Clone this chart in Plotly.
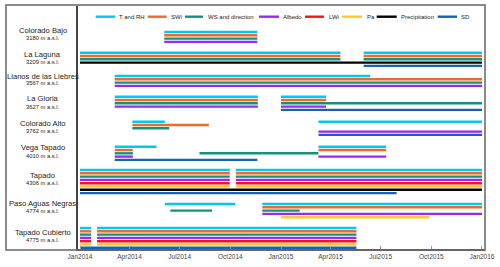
import plotly.graph_objects as go

# ---------------- data ----------------
stations = ["Colorado Bajo", "La Laguna", "Llanos de las Liebres", "La Gloria",
            "Colorado Alto", "Vega Tapado", "Tapado", "Paso Aguas Negras",
            "Tapado Cubierto"]
elevations = ["3180 m a.s.l.", "3209 m a.s.l.", "3567 m a.s.l.", "3627 m a.s.l.",
              "3762 m a.s.l.", "4010 m a.s.l.", "4306 m a.s.l.", "4774 m a.s.l.",
              "4775 m a.s.l."]
variables = ["T and RH", "SWi", "WS and direction", "Albedo", "LWi", "Pa",
             "Precipitation", "SD"]

# variables measured at each station (order = line order within the station band)
station_vars = {
    "Colorado Bajo": ["T and RH", "SWi", "WS and direction", "Albedo"],
    "La Laguna": ["T and RH", "SWi", "WS and direction", "Precipitation", "SD"],
    "Llanos de las Liebres": ["T and RH", "SWi", "WS and direction", "Albedo"],
    "La Gloria": ["T and RH", "SWi", "WS and direction", "Albedo", "SD"],
    "Colorado Alto": ["T and RH", "SWi", "WS and direction", "Albedo", "SD"],
    "Vega Tapado": ["T and RH", "SWi", "WS and direction", "Albedo", "SD"],
    "Tapado": ["T and RH", "SWi", "WS and direction", "Albedo", "LWi", "Pa",
               "Precipitation", "SD"],
    "Paso Aguas Negras": ["T and RH", "SWi", "WS and direction", "Albedo", "Pa"],
    "Tapado Cubierto": ["T and RH", "SWi", "WS and direction", "Albedo", "LWi",
                        "Pa", "SD"],
}

# measurement periods: (variable, start, end) per station
colorado_bajo = [(v, "2014-06-03", "2014-11-19") for v in
                 ["T and RH", "SWi", "WS and direction", "Albedo"]]
la_laguna = [
    ("T and RH", "2014-01-01", "2015-04-19"), ("T and RH", "2015-05-31", "2016-01-01"),
    ("SWi", "2014-01-01", "2015-04-19"), ("SWi", "2015-05-31", "2016-01-01"),
    ("WS and direction", "2014-01-01", "2015-04-19"), ("WS and direction", "2015-05-31", "2016-01-01"),
    ("Precipitation", "2014-01-01", "2016-01-01"),
    ("SD", "2015-05-31", "2016-01-01"),
]
llanos = [
    ("T and RH", "2014-03-05", "2015-06-12"),
    ("SWi", "2014-03-05", "2016-01-01"),
    ("WS and direction", "2014-03-05", "2016-01-01"),
    ("Albedo", "2014-03-05", "2016-01-01"),
]
la_gloria = [
    ("T and RH", "2014-03-05", "2014-11-20"), ("T and RH", "2015-01-01", "2015-03-24"),
    ("SWi", "2014-03-05", "2014-11-20"), ("SWi", "2015-01-01", "2015-03-24"),
    ("WS and direction", "2014-03-05", "2014-11-20"), ("WS and direction", "2015-01-01", "2016-01-01"),
    ("Albedo", "2014-03-05", "2014-11-20"), ("Albedo", "2015-01-01", "2015-03-24"),
    ("SD", "2015-01-01", "2016-01-01"),
]
colorado_alto = [
    ("T and RH", "2014-04-06", "2014-06-04"), ("T and RH", "2015-03-10", "2016-01-01"),
    ("SWi", "2014-04-06", "2014-08-23"),
    ("WS and direction", "2014-04-06", "2014-06-12"),
    ("Albedo", "2015-03-10", "2016-01-01"),
    ("SD", "2015-03-10", "2016-01-01"),
]
vega_tapado = [
    ("T and RH", "2014-03-05", "2014-05-20"), ("T and RH", "2015-03-10", "2015-07-11"),
    ("SWi", "2014-03-05", "2014-04-07"), ("SWi", "2015-03-10", "2015-07-11"),
    ("WS and direction", "2014-03-05", "2014-04-07"), ("WS and direction", "2014-08-06", "2015-03-10"),
    ("Albedo", "2014-03-05", "2014-04-07"), ("Albedo", "2015-03-10", "2015-07-11"),
    ("SD", "2014-03-05", "2014-11-19"),
]
tapado = [(v, s, e) for v in ["T and RH", "SWi", "WS and direction", "Albedo", "LWi", "Pa"]
          for s, e in [("2014-01-01", "2014-09-30"), ("2014-10-11", "2016-01-01")]] + [
    ("Precipitation", "2014-01-01", "2016-01-01"),
    ("SD", "2014-01-01", "2015-07-30"),
]
paso_aguas_negras = [
    ("T and RH", "2014-06-04", "2014-10-10"), ("T and RH", "2014-11-28", "2016-01-01"),
    ("SWi", "2014-11-28", "2016-01-01"),
    ("WS and direction", "2014-06-14", "2014-08-29"), ("WS and direction", "2014-11-28", "2015-02-04"),
    ("Albedo", "2014-11-28", "2016-01-01"),
    ("Pa", "2015-01-01", "2015-09-27"),
]
tapado_cubierto = [(v, s, e) for v in ["T and RH", "SWi", "WS and direction", "Albedo", "LWi", "Pa"]
                   for s, e in [("2014-01-01", "2014-01-21"), ("2014-02-01", "2015-05-18")]] + [
    ("SD", "2014-01-01", "2015-05-18"),
]
periods = dict(zip(stations, [colorado_bajo, la_laguna, llanos, la_gloria, colorado_alto,
                              vega_tapado, tapado, paso_aguas_negras, tapado_cubierto]))

# ---------------- styles / layout positions ----------------
colors = {
    "T and RH": "#00C8F5", "SWi": "#F0692A", "WS and direction": "#16907A",
    "Albedo": "#9A28F0", "LWi": "#FF1010", "Pa": "#FFC82E",
    "Precipitation": "#000000", "SD": "#1463B4",
}
W, H = 500, 267
PL, PR, PT, PB = 78, 485, 6, 249          # plot area in pixels
row_top = [32, 52.7, 76, 96.7, 121.7, 146.7, 170, 204, 228]
slot_step = 3.3
name_y = [31, 55, 76.5, 98.5, 123.3, 147.3, 175.7, 203.3, 232.7]
elev_y = [38.3, 62.3, 83.3, 106.7, 130.7, 155.7, 183.3, 211, 240]


def px(xp):
    return (xp - PL) / (PR - PL)


def py(yp):
    return (PB - yp) / (PB - PT)


fig = go.Figure()
for var in variables:
    xs, ys = [], []
    for i, st in enumerate(stations):
        for v, s, e in periods[st]:
            if v != var:
                continue
            yv = row_top[i] + station_vars[st].index(v) * slot_step
            xs += [s, e, None]
            ys += [yv, yv, None]
    fig.add_trace(go.Scatter(x=xs, y=ys, mode="lines", name=var,
                             line=dict(color=colors[var], width=2.4),
                             showlegend=False, hoverinfo="skip"))

shapes, annotations = [], []
# station labels
for i, st in enumerate(stations):
    annotations.append(dict(x=px(42.5), y=py(name_y[i]), xref="paper", yref="paper",
                            text=st, showarrow=False, xanchor="center", yanchor="middle",
                            font=dict(size=7.6, color="#222")))
    annotations.append(dict(x=px(42.5), y=py(elev_y[i]), xref="paper", yref="paper",
                            text=elevations[i], showarrow=False, xanchor="center",
                            yanchor="middle", font=dict(size=5.8, color="#222")))

# manual legend
legend_pos = [(95.7, 115, 117), (147.7, 166.7, 169), (185, 203, 206), (259, 279, 281),
              (305, 324, 327), (342, 362, 364.5), (376.7, 396.7, 399), (437.7, 457, 459)]
for var, (x0, x1, xt) in zip(variables, legend_pos):
    shapes.append(dict(type="line", xref="paper", yref="paper", x0=px(x0), x1=px(x1),
                       y0=py(16.7), y1=py(16.7),
                       line=dict(color=colors[var], width=2.4)))
    annotations.append(dict(x=px(xt), y=py(16.9), xref="paper", yref="paper", text=var,
                            showarrow=False, xanchor="left", yanchor="middle",
                            font=dict(size=6, color="#222")))

# outer frame
shapes.append(dict(type="rect", xref="paper", yref="paper", x0=px(6), x1=px(485),
                   y0=py(250), y1=py(5), line=dict(color="#666", width=1.5),
                   fillcolor="rgba(0,0,0,0)", layer="above"))

fig.update_layout(
    width=W, height=H,
    margin=dict(l=PL, r=W - PR, t=PT, b=H - PB, pad=0),
    paper_bgcolor="white", plot_bgcolor="white",
    font=dict(family="Liberation Sans, Arial, sans-serif", color="#222"),
    shapes=shapes, annotations=annotations, showlegend=False,
    xaxis=dict(type="date", range=["2013-12-28 09:00", "2016-01-06 11:00"],
               tick0="2014-01-01", dtick="M3", tickformat="%b%Y",
               ticks="inside", ticklen=3, tickcolor="#999", tickwidth=1,
               tickfont=dict(size=6.5, color="#444"),
               showgrid=False, zeroline=False,
               showline=True, linecolor="#666", linewidth=1.5),
    yaxis=dict(range=[PB, PT], showticklabels=False, ticks="", showgrid=False,
               zeroline=False, showline=True, linecolor="#444", linewidth=1.5),
)

fig.write_html("out.html", config={"displayModeBar": False},
               post_script="document.body.style.margin='0';")
